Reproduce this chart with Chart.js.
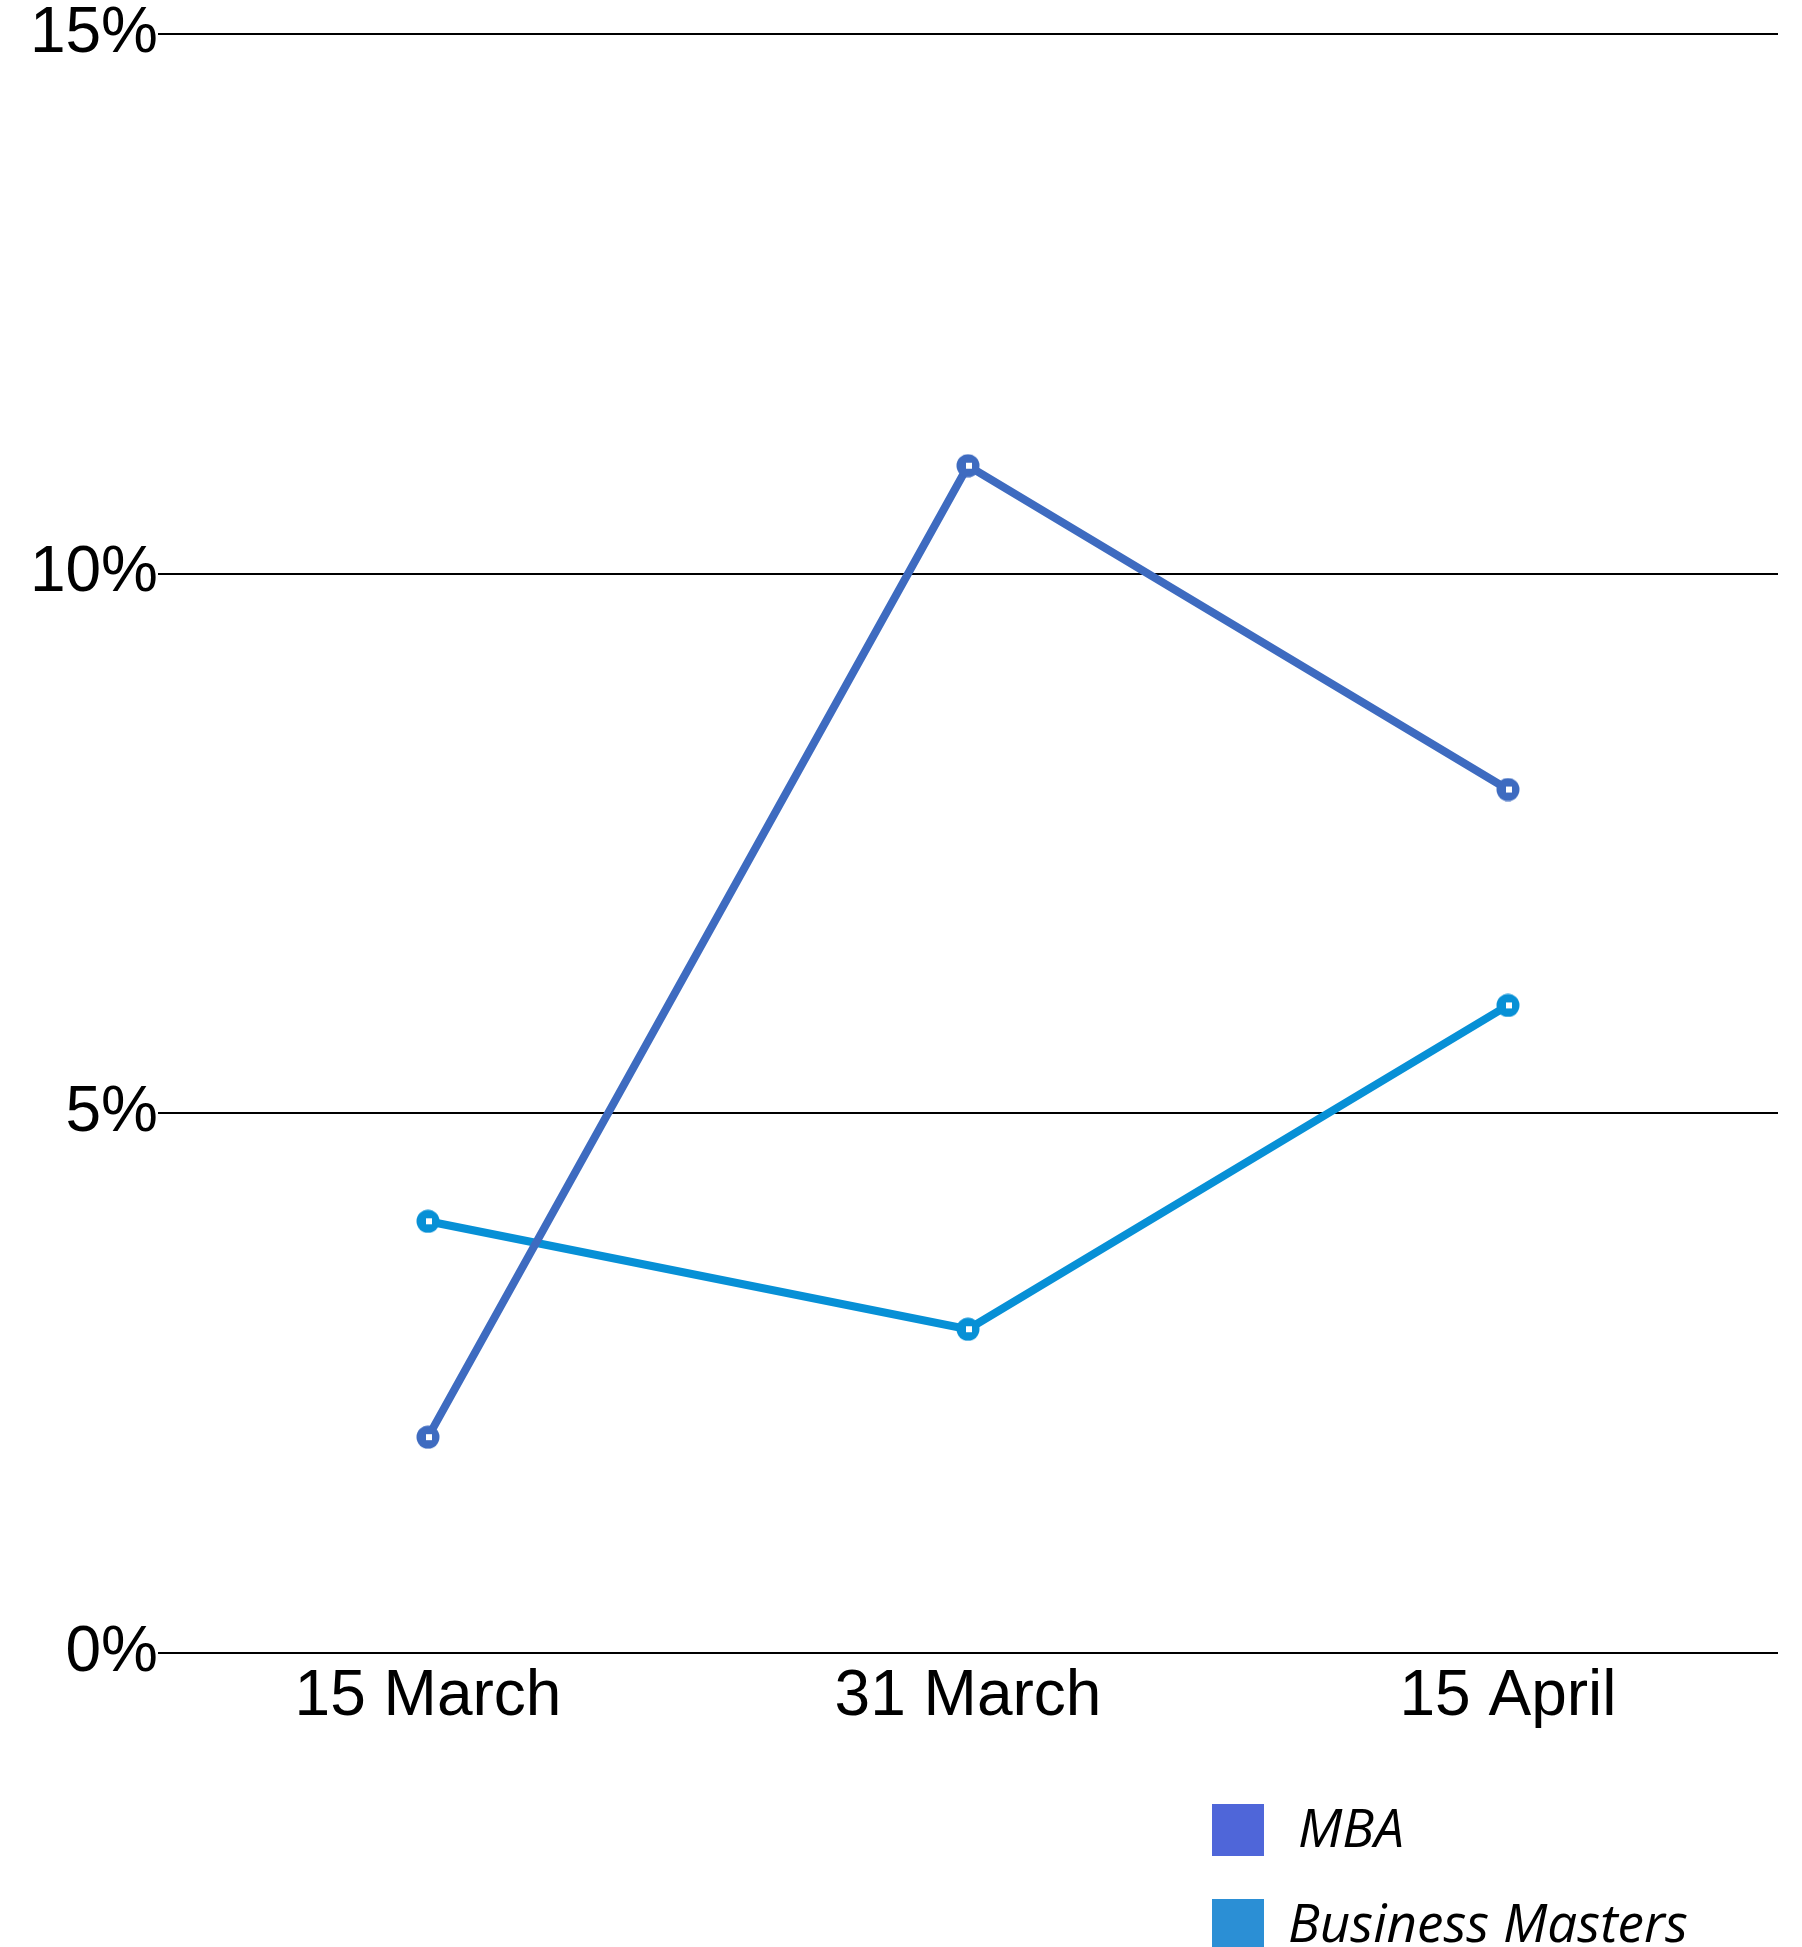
<!DOCTYPE html>
<html>
<head>
<meta charset="utf-8">
<script src="https://cdn.jsdelivr.net/npm/chart.js@4"></script>
<style>
  html, body { margin: 0; padding: 0; background: #fff; overflow: hidden; }
  #wrap { position: relative; width: 1802px; height: 1947px; }
  #c { position: absolute; left: 0; top: 0; }
  .lg-item { position: absolute; height: 52px; }
  .lg-box { position: absolute; left: 0; top: 0; width: 52px; height: 52px; }
  .lg-text { position: absolute; top: -3px; white-space: nowrap; font-family: "Open Sans", sans-serif; font-style: italic; font-size: 53px; line-height: 52px; color: #000; }
</style>
</head>
<body>
<div id="wrap">
  <canvas id="c" width="1802" height="1947"></canvas>
</div>
<script>
const categories = ["15 March", "31 March", "15 April"];
const seriesNames = ["MBA", "Business Masters"];
const mbaValues = [2, 11, 8];
const businessMastersValues = [4, 3, 6];
const yTickValues = [0, 5, 10, 15];

const lineColors = ["#3E6BC0", "#0790D6"];
const legendColors = ["#4F66D9", "#2B8FD5"];

function makePoint(color) {
  const cv = document.createElement('canvas');
  cv.width = 24; cv.height = 24;
  const g = cv.getContext('2d');
  g.fillStyle = color;
  g.beginPath(); g.arc(12, 12, 11.5, 0, Math.PI * 2); g.fill();
  g.fillStyle = '#fff';
  g.fillRect(10, 9, 6, 6);
  return cv;
}

const ctx = document.getElementById('c').getContext('2d');
new Chart(ctx, {
  type: 'line',
  data: {
    labels: categories,
    datasets: [
      { label: seriesNames[0], data: mbaValues, borderColor: lineColors[0], backgroundColor: lineColors[0],
        borderWidth: 8, pointStyle: makePoint(lineColors[0]), pointRadius: 12, tension: 0, fill: false },
      { label: seriesNames[1], data: businessMastersValues, borderColor: lineColors[1], backgroundColor: lineColors[1],
        borderWidth: 8, pointStyle: makePoint(lineColors[1]), pointRadius: 12, tension: 0, fill: false }
    ]
  },
  options: {
    responsive: false,
    animation: false,
    devicePixelRatio: 1,
    layout: { padding: { top: 34, right: 24, left: 0, bottom: 0 } },
    plugins: { legend: { display: false }, tooltip: { enabled: false } },
    scales: {
      x: {
        offset: true,
        grid: { display: false, drawTicks: false },
        border: { display: false },
        ticks: { color: '#000', padding: 6, font: { family: 'Liberation Sans', size: 64 } },
        afterFit: s => { s.height = 294; }
      },
      y: {
        min: 0, max: 15,
        afterBuildTicks: s => { s.ticks = yTickValues.map(v => ({ value: v })); },
        grid: { color: '#000', lineWidth: 2, drawTicks: false },
        border: { display: false },
        ticks: { color: '#000', padding: 0, font: { family: 'Liberation Sans', size: 64, lineHeight: 1 },
                 callback: v => v + '%' },
        afterFit: s => { s.width = 158; }
      }
    }
  }
});

const wrap = document.getElementById('wrap');
seriesNames.forEach((name, i) => {
  const item = document.createElement('div');
  item.className = 'lg-item';
  item.style.left = '1212px';
  item.style.top = (1804 + i * 95) + 'px';
  const box = document.createElement('div');
  box.className = 'lg-box';
  box.style.background = legendColors[i];
  const t = document.createElement('div');
  t.className = 'lg-text';
  t.style.left = (i === 0 ? 86 : 76) + 'px';
  t.textContent = name;
  item.appendChild(box); item.appendChild(t);
  wrap.appendChild(item);
});
</script>
</body>
</html>
